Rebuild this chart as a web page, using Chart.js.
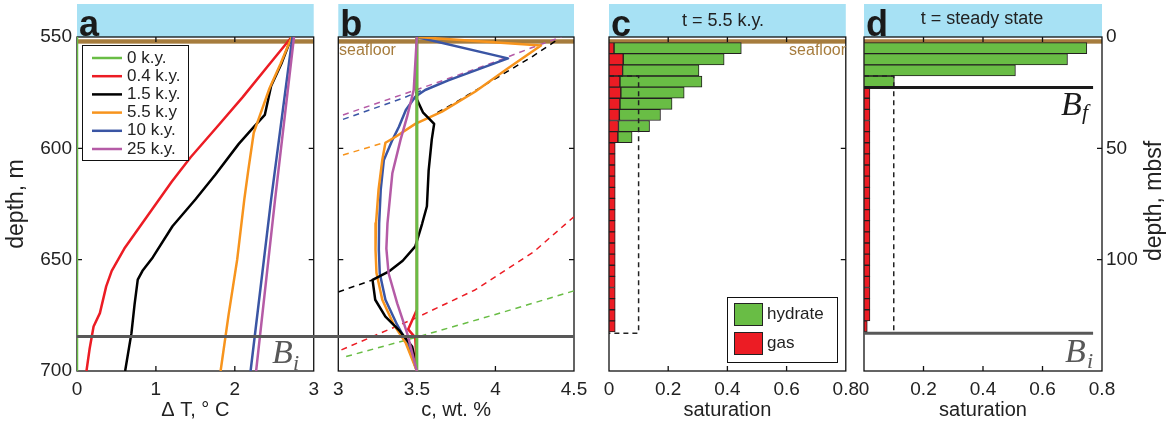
<!DOCTYPE html>
<html>
<head>
  <meta charset="utf-8">
  <title>Hydrate and gas profiles</title>
  <script src="https://cdn.jsdelivr.net/npm/chart.js"></script>
  <style>
    body { margin: 0; background: #fff; }
    #figure { position: relative; width: 1167px; height: 427px; overflow: hidden; }
    #figure canvas { position: absolute; top: 0; }
  </style>
</head>
<body>
  <div id="figure">
    <canvas id="panelA" width="326" height="427" style="left:0px"></canvas>
    <canvas id="panelB" width="270" height="427" style="left:326px"></canvas>
    <canvas id="panelC" width="282" height="427" style="left:584px"></canvas>
    <canvas id="panelD" width="317" height="427" style="left:850px"></canvas>
  </div>

<script>
  Chart.defaults.font.family = "'Liberation Sans', Arial, Helvetica, sans-serif";
  Chart.defaults.color = '#222';
  Chart.defaults.animation = false;

  const SANS = "'Liberation Sans', Arial, sans-serif";
  const SERIF = "'Liberation Serif', 'Times New Roman', serif";

  // colours
  const GREEN = '#69bd45', RED = '#ec1c24', BLACK = '#000000', ORANGE = '#f7941d',
        BLUE = '#3a55a4', PURPLE = '#b55ba6';
  const SKY = '#a7e1f4', BROWN = '#a67c3d', GREY = '#585858';

  // ---- panel a: temperature change, [dT degC, depth m]
  const dT_0ky  = [[0, 550], [0, 700]];
  const dT_04ky = [[2.72, 550], [2.42, 563], [2.10, 577], [1.76, 591], [1.44, 604], [1.20, 615],
                   [1.00, 625], [0.80, 635], [0.60, 645], [0.44, 655], [0.37, 662], [0.29, 674],
                   [0.21, 680], [0.16, 690], [0.12, 700]];
  const dT_15ky = [[2.72, 550], [2.59, 562], [2.46, 572], [2.38, 585], [2.25, 590], [2.05, 598],
                   [1.75, 612], [1.50, 623], [1.21, 635], [0.96, 649], [0.83, 655], [0.77, 659],
                   [0.73, 670], [0.69, 683], [0.61, 700]];
  const dT_55ky = [[2.72, 550], [2.58, 562], [2.44, 573], [2.30, 587], [2.24, 593], [2.17, 610],
                   [2.12, 623], [2.03, 650], [1.92, 675], [1.82, 700]];
  const dT_10ky = [[2.73, 550], [2.46, 623], [2.20, 700]];
  const dT_25ky = [[2.75, 550], [2.51, 623], [2.27, 700]];

  // ---- panel b: salinity, [c wt.%, depth m]; eq_* are the dashed curves
  const c_0ky  = [[3.5, 550], [3.5, 700]];
  const c_04ky = [[3.5, 550], [3.5, 672.5], [3.445, 681.3], [3.49, 685], [3.5, 700]];
  const c_15ky = [[3.5, 550], [3.5, 578], [3.54, 584], [3.587, 587.3], [3.61, 589], [3.595, 596],
                  [3.575, 610], [3.564, 626], [3.533, 634], [3.49, 644], [3.41, 650.5], [3.32, 655.4],
                  [3.218, 659.1], [3.235, 668], [3.30, 675.6], [3.386, 681.6], [3.47, 689],
                  [3.49, 695], [3.5, 700]];
  const c_55ky = [[3.5, 550], [4.29, 553.8], [4.08, 564], [3.87, 574.6], [3.66, 583.5], [3.49, 589],
                  [3.365, 594.8], [3.30, 597.5], [3.28, 605.2], [3.256, 618.7], [3.24, 633.7],
                  [3.237, 645.6], [3.243, 656], [3.28, 668], [3.354, 679.3], [3.43, 687.5], [3.5, 700]];
  const c_10ky = [[3.5, 550], [4.08, 559.6], [3.70, 569.5], [3.553, 573.8], [3.49, 576.8], [3.43, 582.8],
                  [3.386, 590.3], [3.344, 596.3], [3.29, 605.2], [3.27, 618.7], [3.26, 633.7],
                  [3.258, 645.6], [3.264, 656.1], [3.30, 668], [3.375, 679.3], [3.44, 687.5], [3.5, 700]];
  const c_25ky = [[3.5, 550], [3.48, 573.8], [3.438, 585.8], [3.396, 596.2], [3.344, 611.2],
                  [3.313, 633.7], [3.306, 645], [3.32, 656.1], [3.375, 669.6], [3.438, 683], [3.5, 700]];
  const eq_0ky    = [[3.05, 693.5], [3.5, 684.8], [4.0, 674.6], [4.5, 664]];
  const eq_04ky   = [[3.02, 690.5], [3.49, 676.3], [3.87, 663.6], [4.245, 646.4], [4.5, 630.7]];
  const eq_15kyLo = [[3.0, 664.5], [3.218, 659.1]];
  const eq_15kyHi = [[3.63, 584], [3.755, 579], [4.04, 567], [4.23, 559], [4.40, 551]];
  const eq_55ky   = [[3.03, 603], [3.30, 597.3]];
  const eq_10ky   = [[3.03, 587], [3.41, 577.5], [3.53, 574]];
  const eq_25ky   = [[3.03, 585], [3.616, 570.8], [4.0, 561.1], [4.205, 555.5], [4.42, 550]];

  // ---- panel c (t = 5.5 k.y.): saturation in 5 m bins, bin centres in mbsf
  const gasBinsC = [5, 10, 15, 20, 25, 30, 35, 40, 45, 50, 55, 60, 65, 70, 75, 80, 85, 90, 95,
                    100, 105, 110, 115, 120, 125, 130];
  const gasC = [0.017, 0.048, 0.046, 0.037, 0.040, 0.037, 0.035, 0.032, 0.030, 0.021, 0.021, 0.021,
                0.021, 0.021, 0.021, 0.021, 0.021, 0.021, 0.021, 0.021, 0.021, 0.021, 0.021, 0.021,
                0.021, 0.021];
  const hydBinsC = [5, 10, 15, 20, 25, 30, 35, 40, 45];
  const hydrateC = [0.43, 0.341, 0.258, 0.277, 0.214, 0.176, 0.139, 0.105, 0.048];

  // ---- panel d (steady state)
  const gasBinsD = [25, 30, 35, 40, 45, 50, 55, 60, 65, 70, 75, 80, 85, 90, 95, 100, 105, 110,
                    115, 120, 125, 130];
  const gasD = [0.02, 0.02, 0.02, 0.02, 0.02, 0.02, 0.02, 0.02, 0.02, 0.02, 0.02, 0.02, 0.02,
                0.02, 0.02, 0.02, 0.02, 0.02, 0.02, 0.02, 0.02, 0.011];
  const hydBinsD = [5, 10, 15, 20];
  const hydrateD = [0.749, 0.684, 0.509, 0.102];

  // dashed saturation limit outline (c and d)
  const limitSat = [0, 0.1, 0.1, 0];
  const limitMbsf = [17.5, 17.5, 133, 133];

  // ticks
  const depthTicks = [550, 600, 650, 700];
  const dTTicks = [0, 1, 2, 3];
  const cTicks = [3, 3.5, 4, 4.5];
  const satTicks = [0, 0.2, 0.4, 0.6, 0.8];
  const mbsfTicks = [0, 50, 100];

  // horizons
  const seafloorDepth = 552, seafloorMbsf = 2;
  const BiDepth = 684.5, BiMbsf = 133, BfMbsf = 22.7, horizonEnd = 0.77;

  const DASH = [6, 5];

  function curve(pts, color, width, dash) {
    return {
      data: pts.map(([x, y]) => ({ x, y })),
      showLine: true, borderColor: color, backgroundColor: color,
      borderWidth: width, borderDash: dash || [], pointRadius: 0, tension: 0,
      borderJoinStyle: 'round'
    };
  }

  function barSet(bins, vals, color) {
    return {
      type: 'bar',
      data: bins.map((d, i) => ({ x: vals[i], y: d })),
      backgroundColor: color, borderColor: '#231f20', borderWidth: 1, borderSkipped: false,
      barPercentage: 1, categoryPercentage: 1
    };
  }

  function limitSet() {
    return {
      type: 'line', stack: 'limit',
      data: limitSat.map((x, i) => ({ x, y: limitMbsf[i] })),
      borderColor: '#222', borderWidth: 1.5, borderDash: [5, 4], pointRadius: 0, fill: false, tension: 0
    };
  }

  function axisX(min, max, ticks, title, extra) {
    return Object.assign({
      type: 'linear', min, max,
      afterBuildTicks: s => { s.ticks = ticks.map(v => ({ value: v })); },
      afterFit: s => { s.height = 56; },
      grid: { display: false, drawTicks: false },
      border: { display: false },
      ticks: { font: { size: 19 }, padding: 7, autoSkip: false, maxRotation: 0, callback: v => String(v) },
      title: { display: true, text: title, font: { size: 20 }, padding: { bottom: 5 } }
    }, extra || {});
  }

  function axisY(min, max, ticks, opts) {
    return Object.assign({
      type: 'linear', min, max, reverse: true,
      afterBuildTicks: s => { s.ticks = ticks.map(v => ({ value: v })); },
      afterFit: s => { s.width = opts.width; },
      grid: { display: false, drawTicks: false },
      border: { display: false },
      ticks: { display: opts.labels, font: { size: 19 }, padding: opts.pad || 5, autoSkip: false,
               callback: v => String(v) },
      title: { display: !!opts.title, text: opts.title || '', font: { size: 23 }, padding: { top: 3 } }
    }, opts.extra || {});
  }

  function drawLegend(ctx, L) {
    ctx.fillStyle = '#fff';
    ctx.fillRect(L.box[0], L.box[1], L.box[2], L.box[3]);
    ctx.strokeStyle = '#111';
    ctx.lineWidth = 1;
    ctx.strokeRect(L.box[0] + 0.5, L.box[1] + 0.5, L.box[2], L.box[3]);
    ctx.font = '17px ' + SANS;
    ctx.textAlign = 'left';
    ctx.textBaseline = 'middle';
    L.items.forEach((it, i) => {
      const yy = L.y0 + i * L.step;
      if (L.swatch === 'line') {
        ctx.strokeStyle = it.color;
        ctx.lineWidth = 2.5;
        ctx.beginPath(); ctx.moveTo(L.x0, yy); ctx.lineTo(L.x0 + 30, yy); ctx.stroke();
      } else {
        ctx.fillStyle = it.color;
        ctx.fillRect(L.x0, yy - 11, 28, 22);
        ctx.strokeStyle = '#222'; ctx.lineWidth = 1;
        ctx.strokeRect(L.x0 + 0.5, yy - 10.5, 28, 22);
      }
      ctx.fillStyle = '#222';
      ctx.fillText(it.label, L.tx, yy);
    });
  }

  // header band, seafloor, frame with inward ticks, horizons, labels
  const deco = {
    id: 'deco',
    beforeDatasetsDraw(chart, args, o) {
      const { ctx, chartArea: a } = chart;
      const { x, y } = chart.scales;
      ctx.save();
      ctx.fillStyle = SKY;
      ctx.fillRect(a.left, 4, a.right - a.left, a.top - 4);
      const ys = y.getPixelForValue(o.seafloor);
      ctx.fillStyle = BROWN;
      ctx.fillRect(a.left, ys - 2.2, a.right - a.left, 4.4);
      ctx.strokeStyle = '#111';
      ctx.lineWidth = 1.3;
      ctx.strokeRect(a.left, a.top, a.right - a.left, a.bottom - a.top);
      ctx.beginPath();
      x.ticks.forEach(t => {
        if (t.value <= x.min || t.value >= x.max) return;
        const px = x.getPixelForValue(t.value);
        ctx.moveTo(px, a.top); ctx.lineTo(px, a.top + 5);
        ctx.moveTo(px, a.bottom); ctx.lineTo(px, a.bottom - 5);
      });
      y.ticks.forEach(t => {
        if (t.value <= y.min || t.value >= y.max) return;
        const py = y.getPixelForValue(t.value);
        ctx.moveTo(a.left, py); ctx.lineTo(a.left + 5, py);
        ctx.moveTo(a.right, py); ctx.lineTo(a.right - 5, py);
      });
      ctx.stroke();
      ctx.restore();
    },
    afterDatasetsDraw(chart, args, o) {
      const { ctx, chartArea: a } = chart;
      const { x, y } = chart.scales;
      ctx.save();
      (o.hlines || []).forEach(l => {
        const x0 = l.from === 'edge' ? 0 : l.from === undefined ? a.left : x.getPixelForValue(l.from);
        const x1 = l.to === 'edge' ? chart.width : l.to === undefined ? a.right : x.getPixelForValue(l.to);
        const py = y.getPixelForValue(l.at);
        ctx.strokeStyle = l.color;
        ctx.lineWidth = l.width;
        ctx.beginPath(); ctx.moveTo(x0, py); ctx.lineTo(x1, py); ctx.stroke();
      });
      ctx.fillStyle = '#1a1a1a';
      ctx.font = 'bold 36px ' + SANS;
      ctx.textAlign = 'left';
      ctx.textBaseline = 'alphabetic';
      ctx.fillText(o.letter, a.left + 2, a.top - 1);
      if (o.legend) drawLegend(ctx, o.legend);
      (o.labels || []).forEach(t => {
        ctx.save();
        ctx.fillStyle = t.color || '#222';
        ctx.font = t.font || '18px ' + SANS;
        ctx.textAlign = t.align || 'left';
        ctx.textBaseline = t.baseline || 'alphabetic';
        ctx.translate(t.x, t.y);
        if (t.rotate) ctx.rotate(t.rotate * Math.PI / 180);
        ctx.fillText(t.text, 0, 0);
        ctx.restore();
      });
      ctx.restore();
    }
  };

  const common = {
    responsive: false,
    events: [],
  };
  const noLegend = { legend: { display: false }, tooltip: { enabled: false } };

  // ---------- panel a
  const seriesA = [
    ['0 k.y.', GREEN, dT_0ky],
    ['0.4 k.y.', RED, dT_04ky],
    ['1.5 k.y.', BLACK, dT_15ky],
    ['5.5 k.y', ORANGE, dT_55ky],
    ['10 k.y.', BLUE, dT_10ky],
    ['25 k.y.', PURPLE, dT_25ky]
  ];

  new Chart(document.getElementById('panelA'), {
    type: 'scatter',
    data: { datasets: seriesA.slice().reverse().map(([, color, pts]) => curve(pts, color, 2.5)) },
    options: Object.assign({}, common, {
      layout: { padding: { top: 37, right: 10, left: 0, bottom: 0 } },
      scales: {
        x: axisX(0, 3, dTTicks, 'Δ T, ° C'),
        y: axisY(550, 700, depthTicks, { width: 77, labels: true, title: 'depth, m' })
      },
      plugins: Object.assign({}, noLegend, {
        deco: {
          letter: 'a', seafloor: seafloorDepth,
          hlines: [{ at: BiDepth, to: 'edge', color: GREY, width: 3 }],
          legend: {
            box: [82, 45, 106, 115], swatch: 'line', x0: 92, tx: 127, y0: 58, step: 18.2,
            items: seriesA.map(([label, color]) => ({ label, color }))
          },
          labels: [
            { text: 'B', x: 272, y: 363, font: 'italic 34px ' + SERIF, color: GREY },
            { text: 'i', x: 293, y: 370, font: 'italic 22px ' + SERIF, color: GREY }
          ]
        }
      })
    }),
    plugins: [deco]
  });

  // ---------- panel b
  new Chart(document.getElementById('panelB'), {
    type: 'scatter',
    data: {
      datasets: [
        curve(c_25ky, PURPLE, 2.5),
        curve(c_0ky, GREEN, 3),
        curve(c_04ky, RED, 2.5),
        curve(c_15ky, BLACK, 2.5),
        curve(c_55ky, ORANGE, 2.5),
        curve(c_10ky, BLUE, 2.5),
        curve(eq_25ky, PURPLE, 1.5, DASH),
        curve(eq_10ky, BLUE, 1.5, DASH),
        curve(eq_55ky, ORANGE, 1.5, DASH),
        curve(eq_15kyLo, BLACK, 1.5, DASH),
        curve(eq_15kyHi, BLACK, 1.5, DASH),
        curve(eq_04ky, RED, 1.5, DASH),
        curve(eq_0ky, GREEN, 1.5, DASH)
      ]
    },
    options: Object.assign({}, common, {
      layout: { padding: { top: 37, right: 22, left: 9, bottom: 0 } },
      scales: {
        x: axisX(3, 4.5, cTicks, 'c, wt. %'),
        y: axisY(550, 700, depthTicks, { width: 0, labels: false })
      },
      plugins: Object.assign({}, noLegend, {
        deco: {
          letter: 'b', seafloor: seafloorDepth,
          hlines: [{ at: BiDepth, from: 'edge', color: GREY, width: 3 }],
          labels: [
            { text: 'seafloor', x: 13, y: 51, font: '16px ' + SANS, color: BROWN, baseline: 'middle' }
          ]
        }
      })
    }),
    plugins: [deco]
  });

  // ---------- panel c
  new Chart(document.getElementById('panelC'), {
    type: 'bar',
    data: {
      datasets: [
        limitSet(),
        barSet(gasBinsC, gasC, RED),
        barSet(hydBinsC, hydrateC, GREEN)
      ]
    },
    options: Object.assign({}, common, {
      indexAxis: 'y',
      layout: { padding: { top: 37, right: 19, left: 25, bottom: 0 } },
      scales: {
        x: axisX(0, 0.8, satTicks, 'saturation', { stacked: true }),
        y: axisY(0, 150, mbsfTicks, { width: 0, labels: false, extra: { stacked: true, offset: false } })
      },
      plugins: Object.assign({}, noLegend, {
        deco: {
          letter: 'c', seafloor: seafloorMbsf,
          legend: {
            box: [143, 297, 110, 65], swatch: 'box', x0: 150, tx: 183, y0: 314, step: 29,
            items: [{ label: 'hydrate', color: GREEN }, { label: 'gas', color: RED }]
          },
          labels: [
            { text: 't = 5.5 k.y.', x: 139, y: 21, align: 'center', baseline: 'middle' },
            { text: 'seafloor', x: 262, y: 51, align: 'right', baseline: 'middle',
              font: '16px ' + SANS, color: BROWN }
          ]
        }
      })
    }),
    plugins: [deco]
  });

  // ---------- panel d
  new Chart(document.getElementById('panelD'), {
    type: 'bar',
    data: {
      datasets: [
        limitSet(),
        barSet(gasBinsD, gasD, RED),
        barSet(hydBinsD, hydrateD, GREEN)
      ]
    },
    options: Object.assign({}, common, {
      indexAxis: 'y',
      layout: { padding: { top: 37, right: 0, left: 14, bottom: 0 } },
      scales: {
        x: axisX(0, 0.8, satTicks, 'saturation', { stacked: true }),
        y: axisY(0, 150, mbsfTicks, { width: 65, labels: true, pad: 4,
                                      extra: { position: 'right', stacked: true, offset: false } })
      },
      plugins: Object.assign({}, noLegend, {
        deco: {
          letter: 'd', seafloor: seafloorMbsf,
          hlines: [
            { at: BfMbsf, from: 0, to: horizonEnd, color: '#1a1a1a', width: 3 },
            { at: BiMbsf, from: 0, to: horizonEnd, color: GREY, width: 3 }
          ],
          labels: [
            { text: 't = steady state', x: 132, y: 19, align: 'center', baseline: 'middle' },
            { text: 'B', x: 211, y: 115, font: 'italic 34px ' + SERIF, color: '#1a1a1a' },
            { text: 'f', x: 232, y: 119, font: 'italic 22px ' + SERIF, color: '#1a1a1a' },
            { text: 'B', x: 215, y: 362, font: 'italic 34px ' + SERIF, color: GREY },
            { text: 'i', x: 237, y: 368, font: 'italic 22px ' + SERIF, color: GREY },
            { text: 'depth, mbsf', x: 305, y: 201, rotate: -90, align: 'center', baseline: 'middle',
              font: '23px ' + SANS }
          ]
        }
      })
    }),
    plugins: [deco]
  });
</script>
</body>
</html>
